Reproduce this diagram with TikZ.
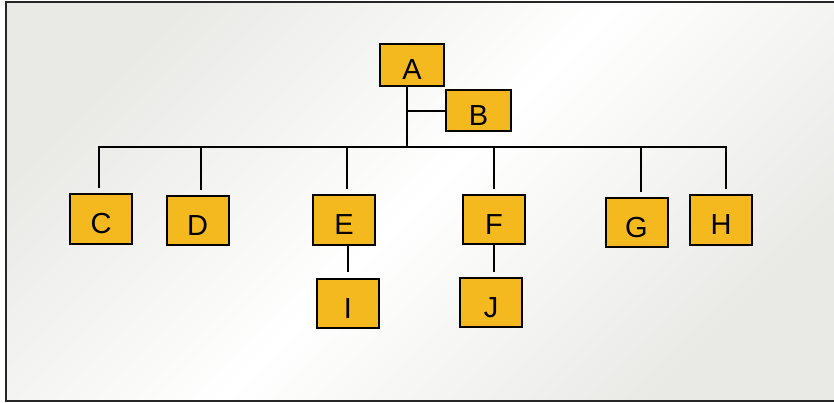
\documentclass[tikz,border=0pt]{standalone}
\usepackage{fontspec}
\setmainfont{Liberation Sans}
\definecolor{boxgold}{RGB}{245,185,32}
\definecolor{bgedge}{RGB}{233,233,230}
\tikzset{orgbox/.style={draw=black,line width=2pt,fill=boxgold,inner sep=0pt,
  minimum width=62pt,minimum height=49pt,text height=29pt,text depth=0pt,
  font=\fontsize{29}{34}\selectfont}}
\begin{document}
\begin{tikzpicture}[x=1pt,y=-1pt]
\useasboundingbox (0,0) rectangle (834,403);
\shade[top color=bgedge,bottom color=bgedge,middle color=white,shading angle=45] (6,2) rectangle (834,401);
\draw[line width=2pt,draw=black!85] (834,2) -- (6,2) -- (6,401) -- (834,401);%frame
\node[orgbox,minimum width=64pt,minimum height=42pt] (A) at (412,65) {A};
\node[orgbox,minimum width=65pt,minimum height=41pt] (B) at (478.5,111) {B};
\foreach \n/\x/\y in {C/101/219,D/197.5/220.5,E/344/220,F/494/219.5,G/636.5/222.5,H/721/220,I/348/303.5,J/491/302.5}
  \node[orgbox] (\n) at (\x,\y) {\n};
\coordinate (bus) at (407,147);
\begin{scope}[line width=1.6pt]
\draw (A.south -| bus) -- (bus);
\draw (B.west) -- (B.west -| bus);
\draw ([xshift=-2pt,yshift=5pt]C.north) |- ([xshift=5pt]H.north |- bus) -- ([xshift=5pt,yshift=5pt]H.north);
\foreach \n/\dx in {D/3.5,E/3,F/0,G/4.5}
  \draw ([xshift=\dx pt]\n.north |- bus) -- ([xshift=\dx pt,yshift=5pt]\n.north);
\draw (E.south -| I.north) -- ([yshift=6pt]I.north);
\draw (F.south) -- ([yshift=5pt]F.south |- J.north);
\end{scope}
\end{tikzpicture}
\end{document}
